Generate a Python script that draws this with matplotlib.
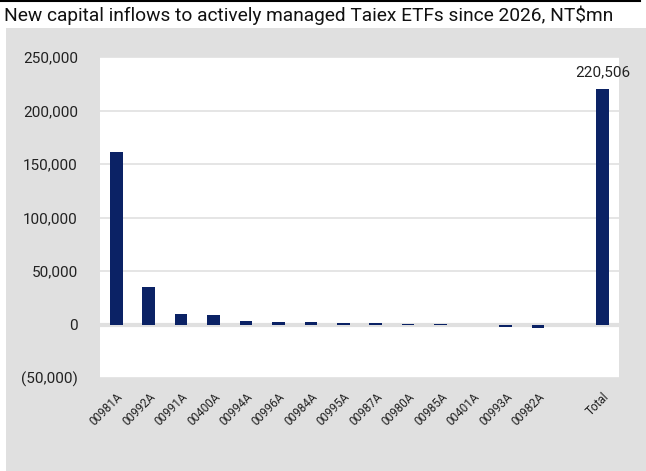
import matplotlib.pyplot as plt
from matplotlib.patches import Rectangle
from matplotlib.ticker import FuncFormatter

plt.rcParams['font.family'] = ['Roboto', 'DejaVu Sans']

etfs = ["00981A", "00992A", "00991A", "00400A", "00994A", "00996A", "00984A",
        "00995A", "00987A", "00980A", "00985A", "00401A", "00993A", "00982A",
        "", "Total"]
inflows = [161000, 35200, 10200, 8600, 3100, 2800, 2100,
           1500, 1000, 700, 300, 0, -2400, -3700,
           0, 220506]

navy = "#0b2265"


def fmt(v, pos):
    if v < 0:
        return "({:,.0f})".format(-v)
    return "{:,.0f}".format(v)


fig = plt.figure(figsize=(6.46, 4.71), dpi=100)
fig.patch.set_facecolor("white")

# grey panel behind the chart
panel = Rectangle((6 / 646, 0), 1 - 6 / 646, 1 - 28 / 471,
                  transform=fig.transFigure, facecolor="#e0e0e0",
                  edgecolor="none", zorder=-10)
fig.add_artist(panel)
fig.add_artist(plt.Line2D([0, 640 / 646], [1 - 1 / 471, 1 - 1 / 471],
                          transform=fig.transFigure, color="black", lw=1.5))

fig.text(4 / 646, 1 - 15 / 471, "New capital inflows to actively managed Taiex ETFs since 2026, NT$mn",
         fontsize=13.75, va="center", ha="left", color="#111111")

ax = fig.add_axes([100 / 646, 1 - 378 / 471, 519 / 646, 321 / 471])
ax.set_facecolor("white")

x = range(len(etfs))
ax.bar(x, inflows, width=0.39, color=navy, linewidth=0, zorder=3)

ax.set_xlim(-0.5, len(etfs) - 0.5)
ax.set_ylim(-50000, 250000)
ax.set_yticks(range(-50000, 250001, 50000))
ax.yaxis.set_major_formatter(FuncFormatter(fmt))
ax.yaxis.grid(True, color="#e0e0e0", lw=1.2, zorder=0)
ax.axhline(0, color="#e0e0e0", lw=3, zorder=2)

ax.set_xticks(list(x))
ax.set_xticklabels(etfs, rotation=45, ha="right", rotation_mode="anchor",
                   fontsize=8.5, color="#222222")
ax.tick_params(axis="y", length=0, pad=16, labelsize=11, labelcolor="#222222")
ax.tick_params(axis="x", length=0, pad=9)
for s in ax.spines.values():
    s.set_visible(False)

ax.annotate("{:,}".format(inflows[-1]), (len(etfs) - 1, inflows[-1]),
            xytext=(0, 7), textcoords="offset points", ha="center", va="bottom",
            fontsize=11, color="#222222")

fig.savefig("out.png", dpi=100)
